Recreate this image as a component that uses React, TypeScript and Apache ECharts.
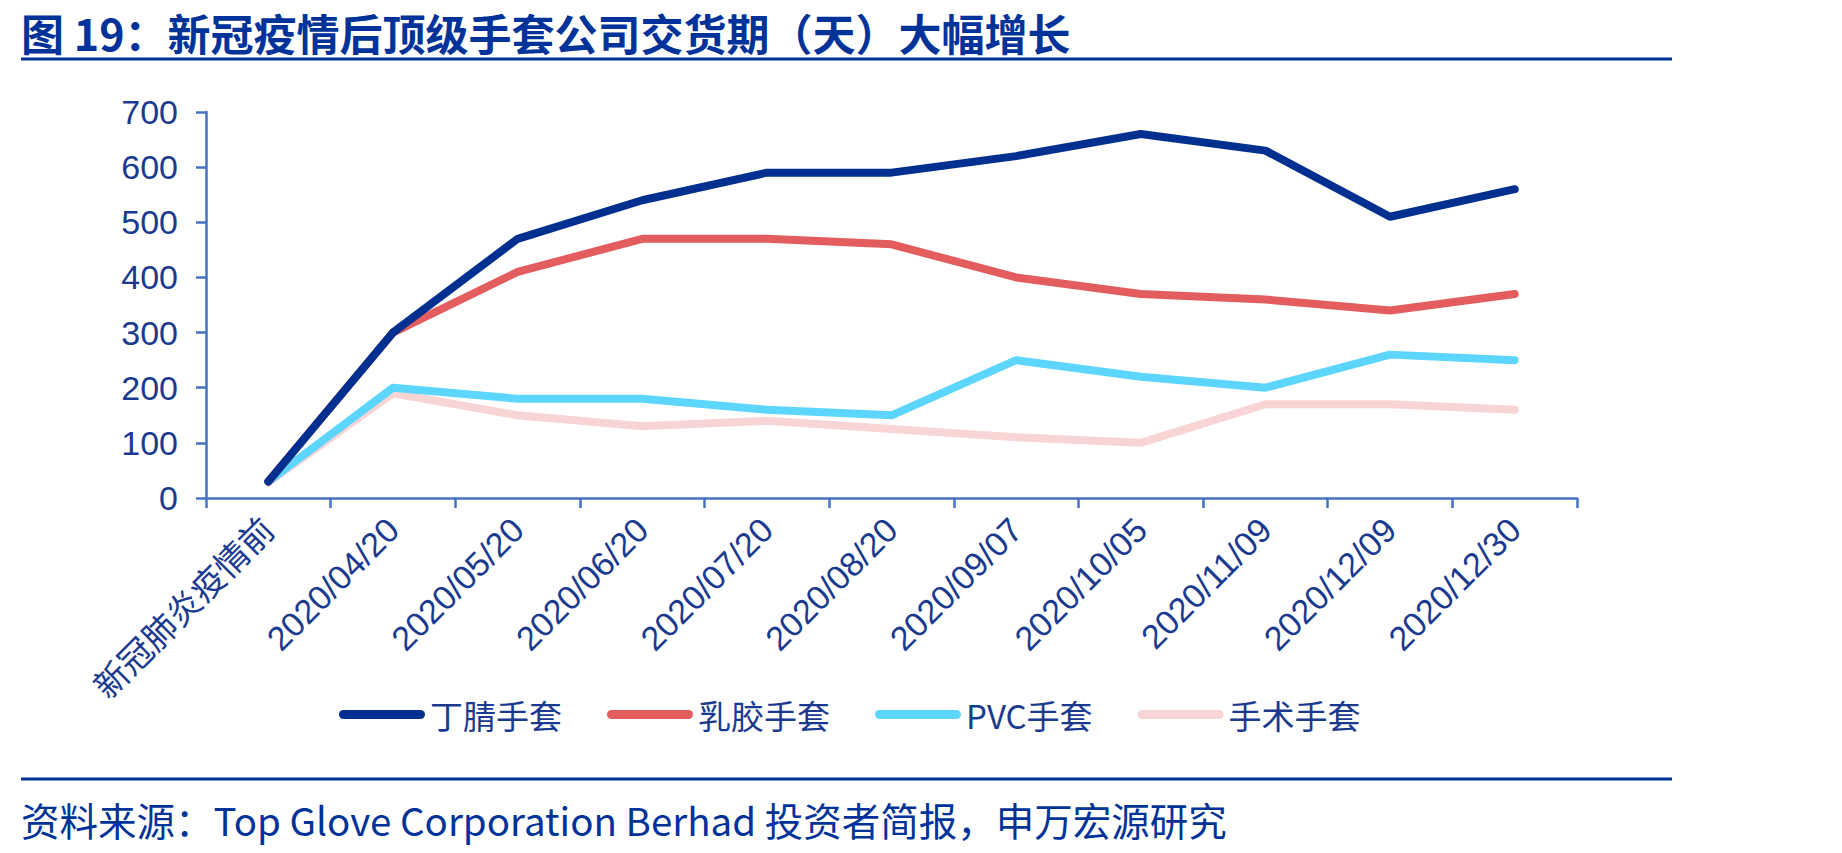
import React, { useEffect, useRef } from "react";
import * as echarts from "echarts";

const categories = [
  "新冠肺炎疫情前",
  "2020/04/20",
  "2020/05/20",
  "2020/06/20",
  "2020/07/20",
  "2020/08/20",
  "2020/09/07",
  "2020/10/05",
  "2020/11/09",
  "2020/12/09",
  "2020/12/30",
];

const nitrile = [30, 300, 470, 540, 590, 590, 620, 660, 630, 510, 560];
const latex = [30, 300, 410, 470, 470, 460, 400, 370, 360, 340, 370];
const pvc = [30, 200, 180, 180, 160, 150, 250, 220, 200, 260, 250];
const surgical = [28, 190, 150, 130, 140, 125, 110, 100, 170, 170, 160];

const seriesNames = ["丁腈手套", "乳胶手套", "PVC手套", "手术手套"];
const seriesColors = ["#00308F", "#E45D5E", "#5DD6FF", "#F8D4D4"];

const titleText = "图 19：新冠疫情后顶级手套公司交货期（天）大幅增长";
const sourceText = "资料来源：Top Glove Corporation Berhad 投资者简报，申万宏源研究";

const yTicks = { min: 0, max: 700, interval: 100 };

export default function App() {
  const ref = useRef<HTMLDivElement>(null);

  useEffect(() => {
    document.body.style.margin = "0";
    if (!ref.current) return;
    const chart = echarts.init(ref.current, undefined, { renderer: "svg" });
    const textColor = "#1A3A8F";
    const axisColor = "#4472C4";
    const dataSets = [nitrile, latex, pvc, surgical];
    chart.setOption({
      animation: false,
      backgroundColor: "#ffffff",
      grid: {
        left: 206,
        right: 265,
        top: 112,
        bottom: 355,
        containLabel: false,
        outerBoundsMode: "none",
      },
      legend: {
        data: seriesNames,
        left: 334,
        top: 693,
        itemWidth: 86,
        itemHeight: 9,
        itemGap: 45,
        icon: "path://M4.5,0 L81.5,0 A4.5,4.5 0 0 1 81.5,9 L4.5,9 A4.5,4.5 0 0 1 4.5,0 Z",
        textStyle: {
          fontFamily: "Noto Sans CJK SC",
          fontSize: 33,
          color: textColor,
        },
      },
      xAxis: {
        type: "category",
        data: categories,
        boundaryGap: true,
        axisLine: { show: true, lineStyle: { color: axisColor, width: 2.5 } },
        axisTick: {
          show: true,
          alignWithLabel: false,
          length: 10,
          lineStyle: { color: axisColor, width: 2.5 },
        },
        axisLabel: {
          rotate: 45,
          margin: 26,
          interval: 0,
          fontFamily: "Liberation Sans, Noto Sans CJK SC",
          fontSize: 34,
          color: textColor,
        },
        splitLine: { show: false },
      },
      yAxis: {
        type: "value",
        min: yTicks.min,
        max: yTicks.max,
        interval: yTicks.interval,
        axisLine: { show: true, lineStyle: { color: axisColor, width: 2.5 } },
        axisTick: {
          show: true,
          length: 10,
          lineStyle: { color: axisColor, width: 2.5 },
        },
        axisLabel: {
          margin: 28,
          fontFamily: "Liberation Sans",
          fontSize: 34,
          color: textColor,
        },
        splitLine: { show: false },
      },
      series: seriesNames.map((name, i) => ({
        name,
        type: "line",
        data: dataSets[i],
        showSymbol: false,
        symbol: "none",
        smooth: false,
        z: 10 - i,
        itemStyle: { color: seriesColors[i] },
        lineStyle: {
          color: seriesColors[i],
          width: 8,
          cap: "round",
          join: "round",
        },
      })),
      graphic: [
        {
          type: "text",
          x: 21,
          y: 32,
          style: {
            text: titleText,
            font: "bold 43px 'Noto Sans CJK SC'",
            fill: "#003399",
            textVerticalAlign: "middle",
            verticalAlign: "middle",
          },
        },
        {
          type: "line",
          shape: { x1: 21, y1: 59, x2: 1672, y2: 59 },
          style: { stroke: "#003399", lineWidth: 3 },
        },
        {
          type: "line",
          shape: { x1: 21, y1: 779, x2: 1672, y2: 779 },
          style: { stroke: "#003399", lineWidth: 3 },
        },
        {
          type: "text",
          x: 21,
          y: 819,
          style: {
            text: sourceText,
            font: "38.5px 'Noto Sans CJK SC'",
            fill: "#003399",
            textVerticalAlign: "middle",
            verticalAlign: "middle",
          },
        },
      ],
    });
    return () => chart.dispose();
  }, []);

  return <div ref={ref} style={{ width: 1842, height: 853 }} />;
}
